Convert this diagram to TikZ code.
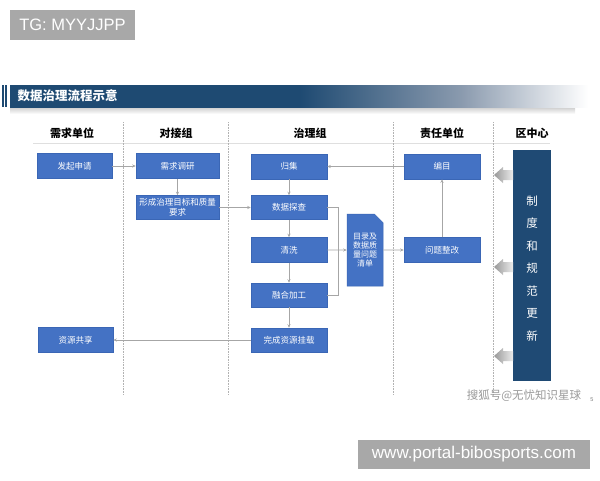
\documentclass[tikz,border=0pt]{standalone}
\usepackage{fontspec}
\setmainfont{Noto Sans CJK SC}
\newfontfamily\latinsans{Liberation Sans}
\usetikzlibrary{arrows.meta,shapes.misc}
\definecolor{boxblue}{HTML}{4472C4}
\definecolor{boxedge}{HTML}{3A66B5}
\definecolor{navy}{HTML}{1F4A74}
\definecolor{barblue}{HTML}{1E4A72}
\definecolor{barmid}{HTML}{8A9AAE}
\definecolor{linegray}{HTML}{A6A6A6}
\definecolor{tagray}{HTML}{A8A8A8}
\definecolor{wmgray}{HTML}{9A9A9A}
\pgfdeclarehorizontalshading{barshade}{100bp}{color(0bp)=(barblue); color(25bp)=(barblue); color(50bp)=(barblue); color(64bp)=(barmid); color(75bp)=(white); color(100bp)=(white)}
\begin{document}
\begin{tikzpicture}[x=1pt,y=-1pt,
  flowbox/.style={draw=boxedge, line width=0.5pt, fill=boxblue, text=white,
    font=\fontsize{8.5}{10}\selectfont, inner sep=1pt, align=center,
    minimum width=76pt, minimum height=25pt},
  colhead/.style={font=\bfseries\fontsize{11}{13}\selectfont, text=black},
  conn/.style={draw=linegray, line width=0.6pt, -{Stealth[length=3.5pt,width=3pt]}},
  plainconn/.style={draw=linegray, line width=0.6pt},
  lanesep/.style={draw=gray!60, line width=0.6pt, densely dotted},
  bigarrow/.style={left color=gray!80, right color=gray!15, draw=none},
  tagbox/.style={fill=tagray, text=white, inner sep=0pt}
]
\useasboundingbox (0,0) rectangle (600,480);
\fill[white] (0,0) rectangle (600,480);

% top watermark tag
\node[tagbox, minimum width=125pt, minimum height=30pt, font=\latinsans\fontsize{16.5}{18}\selectfont] (tg) at (72.5,25) {TG: MYYJJPP};

% title bar with soft shadow
\shade[top color=gray!40, bottom color=white] (10,107) rectangle (575,114);
\fill[barblue] (2,85) rectangle (4,107);
\fill[barblue] (5,85) rectangle (7,107);
\shade[shading=barshade] (10,85) rectangle (588,107);
\node[anchor=west, text=white, font=\bfseries\fontsize{12.5}{14}\selectfont] (title) at (14,96) {数据治理流程示意};

% column headers
\node[colhead] (h1) at (72,133) {需求单位};
\node[colhead] (h2) at (176,133) {对接组};
\node[colhead] (h3) at (310,133) {治理组};
\node[colhead] (h4) at (442,133) {责任单位};
\node[colhead] (h5) at (532,133) {区中心};
\draw[gray!25, line width=0.8pt] (33,143) -- (550,143);

% lane separators
\foreach \xx in {123,228,393,493} \draw[lanesep] (\xx,122) -- (\xx,395);

% boxes
\node[flowbox, minimum width=75pt] (fq) at (74.5,166) {发起申请};
\node[flowbox, minimum width=83pt] (xqdy) at (177.5,166) {需求调研};
\node[flowbox, minimum width=83pt, minimum height=24pt, font=\fontsize{8.5}{10}\selectfont] (xczl) at (177.5,207.5) {形成治理目标和质量\\要求};
\node[flowbox] (gj) at (289,166.5) {归集};
\node[flowbox, minimum height=24pt] (sjtc) at (289,207.5) {数据探查};
\node[flowbox] (qx) at (289,250) {清洗};
\node[flowbox, minimum height=24pt] (rhjg) at (289,295) {融合加工};
\node[flowbox, minimum height=24pt] (wczy) at (289,340) {完成资源挂载};
\node[flowbox, chamfered rectangle, chamfered rectangle corners=north east, chamfered rectangle xsep=5pt,
  minimum width=34pt, minimum height=72pt, font=\fontsize{8}{8.8}\selectfont] (ml) at (365,250) {目录及\\数据质\\量问题\\清单};
\node[flowbox] (bm) at (442,166.5) {编目};
\node[flowbox] (wtzg) at (442,250) {问题整改};
\node[flowbox, minimum width=75pt] (zygx) at (75.5,340) {资源共享};

% district centre column
\node[fill=navy, draw=navy, minimum width=37pt, minimum height=230pt, inner sep=0pt] (qzx) at (531.5,265) {};
\node[text=white, align=center, font=\fontsize{11.5}{22.5}\selectfont] (qzxt) at (532,268.5) {制\\度\\和\\规\\范\\更\\新};

% big grey arrows
\foreach \yy in {175,267,356}
  \shade[bigarrow] (494,\yy) -- (503,\yy-8) -- (503,\yy-5) -- (513,\yy-5) -- (513,\yy+5) -- (503,\yy+5) -- (503,\yy+8) -- cycle;

% connectors
\draw[conn] (fq) -- (xqdy);
\draw[conn] (xqdy) -- (xczl);
\draw[conn] (xczl) -- (sjtc);
\draw[conn] (gj) -- (sjtc);
\draw[conn] (sjtc) -- (qx);
\draw[conn] (qx) -- (rhjg);
\draw[conn] (rhjg) -- (wczy);
\draw[conn] (bm) -- (gj);
\draw[conn] (wtzg) -- (bm);
\draw[conn] (qx) -- (ml);
\draw[conn] (ml) -- (wtzg);
\draw[plainconn] (sjtc.east) -- ++(11,0) |- (rhjg.east);
\draw[conn] (wczy) -- (zygx);

% source watermark and page number
\node[text=wmgray, font=\fontsize{11.5}{13}\selectfont] (wm) at (524,396) {搜狐号@无忧知识星球};
\node[text=gray, font=\latinsans\fontsize{5.5}{6}\selectfont] (pg) at (592,400) {5};

% bottom tag
\node[tagbox, minimum width=232pt, minimum height=29pt, font=\latinsans\fontsize{17}{19}\selectfont] (url) at (474,454.5) {www.portal-bibosports.com};
\end{tikzpicture}
\end{document}
